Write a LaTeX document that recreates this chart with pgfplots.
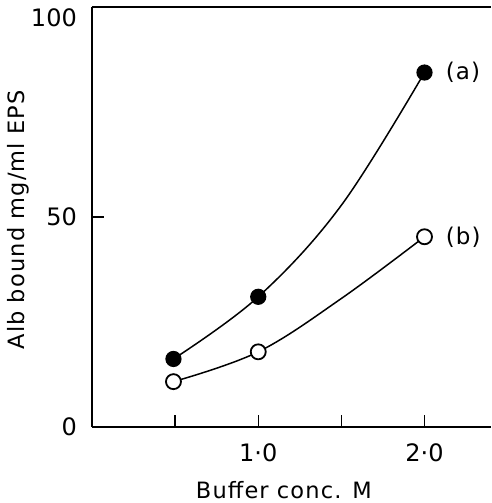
\documentclass[border=0pt]{standalone}
\usepackage{fontspec}
\setmainfont{DejaVu Sans}
\newfontfamily\labfont[LetterSpace=5]{DejaVu Sans}
\usepackage{pgfplots}
\pgfplotsset{compat=1.18}
\begin{document}
\begin{tikzpicture}[x=1pt,y=1pt]
\begin{axis}[
  name=ax,
  at={(0,0)}, anchor=origin,
  scale only axis,
  width=399pt, height=420pt,
  xmin=0, xmax=2.4, ymin=0, ymax=100,
  axis x line=box, axis y line=left,
  axis line style={line width=1.6pt, -},
  xtick={0.5,1,1.5,2}, xticklabels={,1·0,,2·0},
  ytick={0,50,100}, yticklabels={0,50,\raisebox{-20pt}[0pt][0pt]{100}},
  xtick pos=bottom, ytick pos=left,
  tick align=inside,
  major tick length=12pt,
  tick style={line width=1.4pt, black},
  ticklabel style={font=\fontsize{24}{28}\selectfont, inner sep=0pt},
  /pgf/number format/assume math mode=true,
  xticklabel style={anchor=base, yshift=-34pt},
  yticklabel style={anchor=east, xshift=-15pt},
  xlabel={Buffer conc. M},
  ylabel={Alb bound mg/ml EPS},
  label style={font=\labfont\fontsize{22.5}{26}\selectfont, inner sep=0pt},
  xlabel style={at={(axis description cs:0.481,0)}, anchor=base, yshift=-71pt},
  ylabel style={at={(axis description cs:-0.1855,0.493)}, anchor=center},
  clip=false,
]
\addplot[line width=1.5pt, smooth, tension=0.6]
  coordinates {(0.49,16.2) (1.0,31.0) (1.5,52.8) (2.0,84.4)};
\addplot[line width=1.5pt, smooth, tension=0.6]
  coordinates {(0.49,10.8) (1.0,17.9) (1.5,30.6) (2.0,45.3)};
\addplot[only marks, mark=*, mark size=7.5pt, mark options={fill=black, line width=1.2pt}]
  coordinates {(0.49,16.2) (1.0,31.0) (2.0,84.4)};
\addplot[only marks, mark=*, mark size=7.5pt, mark options={fill=white, line width=1.8pt}]
  coordinates {(0.49,10.8) (1.0,17.9) (2.0,45.3)};
\node[anchor=west, inner sep=0pt, font=\labfont\fontsize{23}{26}\selectfont] at (axis cs:2.127,84.4) {(a)};
\node[anchor=west, inner sep=0pt, font=\labfont\fontsize{23}{26}\selectfont] at (axis cs:2.127,45.2) {(b)};
\end{axis}
\pgfresetboundingbox
\useasboundingbox (-92,-76) rectangle (399,427);
\end{tikzpicture}
\end{document}
